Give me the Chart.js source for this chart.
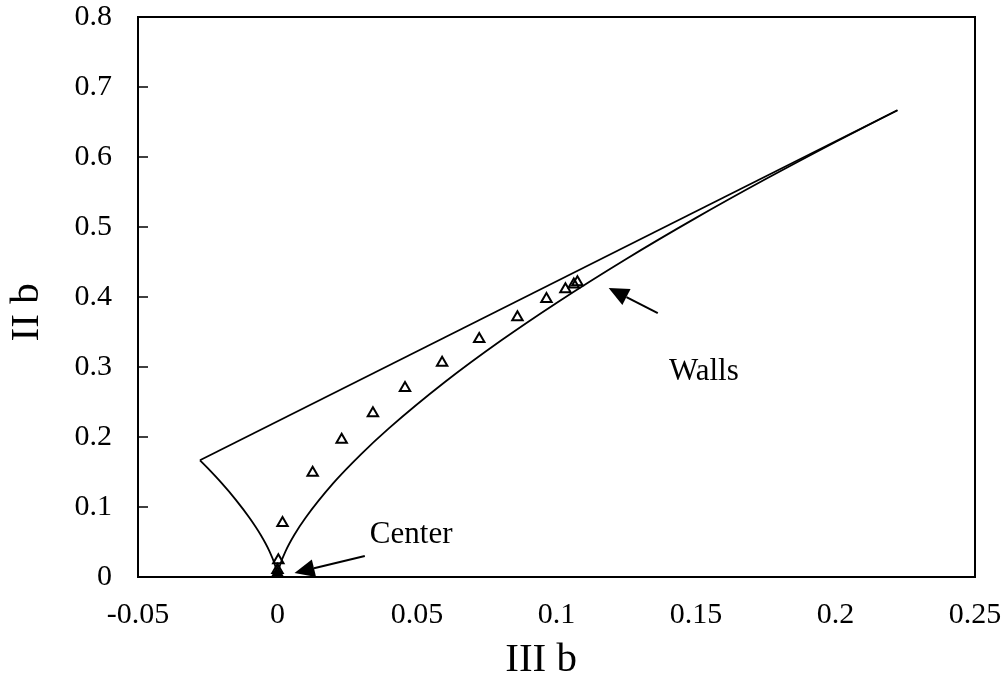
<!DOCTYPE html>
<html>
<head>
<meta charset="utf-8">
<script src="https://cdn.jsdelivr.net/npm/chart.js@4.4.0/dist/chart.umd.min.js"></script>
<style>
  body { margin: 0; background: #fff; }
</style>
</head>
<body>
<canvas id="chart" width="1008" height="698"></canvas>
<script>
// measured points (III b, II b)
const measIII = [0.0, 0.0, 0.0, 0.0003, 0.0018, 0.0126, 0.023, 0.0342, 0.0457, 0.059, 0.0723, 0.086, 0.0964, 0.1032, 0.1062, 0.1075];
const measII  = [0.0, 0.005, 0.01, 0.024, 0.077, 0.149, 0.196, 0.234, 0.27, 0.306, 0.34, 0.371, 0.397, 0.411, 0.418, 0.421];

// center point
const centerIII = [0.0];
const centerII = [0.003];

// boundary: axisymmetric curves (left + right)
const wallIII = [-0.0278, -0.025, -0.02, -0.015, -0.01, -0.006, -0.003, -0.001, -0.0002, 0, 0.0002, 0.001, 0.003, 0.006, 0.01, 0.02, 0.03, 0.04, 0.06, 0.08, 0.1, 0.125, 0.15, 0.175, 0.2, 0.2222];
const wallII  = [0.1667, 0.1554, 0.134, 0.1106, 0.0843, 0.06, 0.0378, 0.0182, 0.0062, 0, 0.0062, 0.0182, 0.0378, 0.06, 0.0843, 0.134, 0.1755, 0.2126, 0.2785, 0.3374, 0.3915, 0.4543, 0.513, 0.5685, 0.6215, 0.6667];

// boundary: two-component line
const topIII = [-0.0278, 0.2222];
const topII = [0.1667, 0.6667];

const xTicks = [-0.05, 0, 0.05, 0.1, 0.15, 0.2, 0.25];
const yTicks = [0, 0.1, 0.2, 0.3, 0.4, 0.5, 0.6, 0.7, 0.8];

// annotations: text + arrow (from -> to), in data units
const notes = [
  { text: 'Center', tx: 0.0331, ty: 0.06, from: [0.0313, 0.030], to: [0.0061, 0.0057] },
  { text: 'Walls', tx: 0.1403, ty: 0.293, from: [0.1363, 0.377], to: [0.1187, 0.413] }
];

function pts(xs, ys) {
  return xs.map((x, i) => ({ x: x, y: ys[i] }));
}

const serif = "'Liberation Serif', 'Times New Roman', serif";

const notePlugin = {
  id: 'notes',
  afterDatasetsDraw(chart) {
    const ctx = chart.ctx;
    const xs = chart.scales.x, ys = chart.scales.y;
    ctx.save();
    // inward y ticks
    ctx.strokeStyle = '#000';
    ctx.lineWidth = 1.5;
    yTicks.forEach(v => {
      const py = ys.getPixelForValue(v);
      ctx.beginPath();
      ctx.moveTo(chart.chartArea.left, py);
      ctx.lineTo(chart.chartArea.left + 10, py);
      ctx.stroke();
    });
    notes.forEach(n => {
      const x1 = xs.getPixelForValue(n.from[0]), y1 = ys.getPixelForValue(n.from[1]);
      const x2 = xs.getPixelForValue(n.to[0]), y2 = ys.getPixelForValue(n.to[1]);
      const ang = Math.atan2(y2 - y1, x2 - x1);
      const hl = 20, hw = 9;
      const bx = x2 - hl * Math.cos(ang), by = y2 - hl * Math.sin(ang);
      ctx.lineWidth = 2;
      ctx.beginPath();
      ctx.moveTo(x1, y1);
      ctx.lineTo(bx, by);
      ctx.stroke();
      ctx.fillStyle = '#000';
      ctx.beginPath();
      ctx.moveTo(x2, y2);
      ctx.lineTo(bx + hw * Math.sin(ang), by - hw * Math.cos(ang));
      ctx.lineTo(bx - hw * Math.sin(ang), by + hw * Math.cos(ang));
      ctx.closePath();
      ctx.fill();
      ctx.font = '31px ' + serif;
      ctx.textAlign = 'left';
      ctx.textBaseline = 'middle';
      ctx.fillText(n.text, xs.getPixelForValue(n.tx), ys.getPixelForValue(n.ty));
    });
    ctx.restore();
  }
};

const framePlugin = {
  id: 'frame',
  afterDraw(chart) {
    const a = chart.chartArea, ctx = chart.ctx;
    ctx.save();
    ctx.strokeStyle = '#000';
    ctx.lineWidth = 2;
    ctx.strokeRect(a.left, a.top, a.right - a.left, a.bottom - a.top);
    ctx.restore();
  }
};

new Chart(document.getElementById('chart'), {
  type: 'scatter',
  data: {
    datasets: [
      {
        label: 'top',
        data: pts(topIII, topII),
        showLine: true,
        borderColor: '#000',
        borderWidth: 1.8,
        pointRadius: 0,
        fill: false
      },
      {
        label: 'walls',
        data: pts(wallIII, wallII),
        showLine: true,
        borderColor: '#000',
        borderWidth: 1.8,
        pointRadius: 0,
        cubicInterpolationMode: 'monotone',
        fill: false
      },
      {
        label: 'measured',
        data: pts(measIII, measII),
        pointStyle: 'triangle',
        pointRadius: 6,
        borderColor: '#000',
        backgroundColor: 'rgba(255,255,255,0)',
        borderWidth: 2
      },
      {
        label: 'center',
        data: pts(centerIII, centerII),
        pointStyle: 'rect',
        pointRadius: 5,
        borderColor: '#000',
        backgroundColor: '#000',
        borderWidth: 1
      }
    ]
  },
  options: {
    responsive: false,
    animation: false,
    events: [],
    layout: { padding: { top: 17, right: 33, left: 0, bottom: 0 } },
    plugins: {
      legend: { display: false },
      tooltip: { enabled: false }
    },
    scales: {
      x: {
        type: 'linear',
        min: -0.05,
        max: 0.25,
        afterBuildTicks: s => { s.ticks = xTicks.map(v => ({ value: v })); },
        afterFit: s => { s.height = 121; s.paddingLeft = 0; s.paddingRight = 0; },
        grid: { display: false, drawTicks: false },
        border: { display: false },
        ticks: {
          padding: 20,
          color: '#000',
          font: { family: serif, size: 30 },
          callback: v => String(v)
        },
        title: {
          display: true,
          text: 'III b   ',
          color: '#000',
          font: { family: serif, size: 41 },
          padding: { top: 4, bottom: 13 }
        }
      },
      y: {
        type: 'linear',
        min: 0,
        max: 0.8,
        afterBuildTicks: s => { s.ticks = yTicks.map(v => ({ value: v })); },
        afterFit: s => { s.width = 138; s.paddingTop = 0; s.paddingBottom = 0; },
        grid: { display: false, drawTicks: false },
        border: { display: false },
        ticks: {
          padding: 26,
          color: '#000',
          font: { family: serif, size: 30 },
          callback: v => String(v)
        },
        title: {
          display: true,
          text: 'II b   ',
          color: '#000',
          font: { family: serif, size: 41 },
          padding: { top: 3, bottom: 4 }
        }
      }
    }
  },
  plugins: [notePlugin, framePlugin]
});
</script>
</body>
</html>
